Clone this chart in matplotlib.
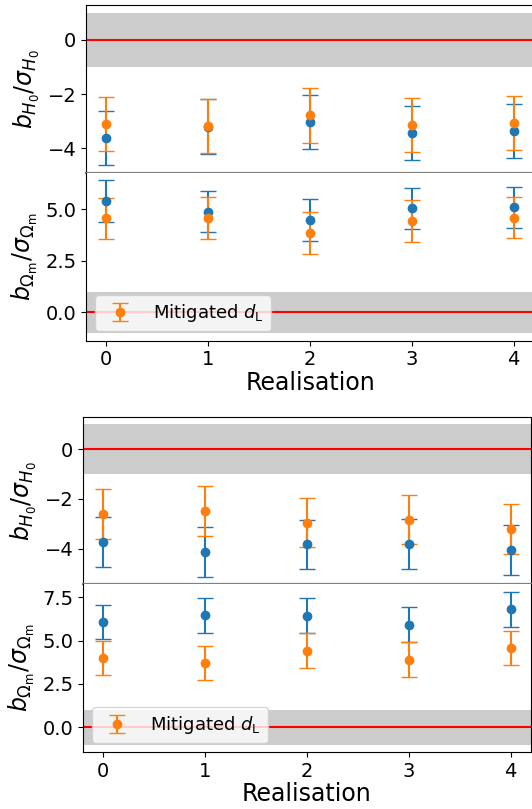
import matplotlib
matplotlib.use("Agg")
import matplotlib.pyplot as plt

# realisation index
realisation = [0, 1, 2, 3, 4]
sigma = [1.0, 1.0, 1.0, 1.0, 1.0]

# upper panel pair
h0_unmit_a = [-3.62, -3.20, -3.03, -3.43, -3.36]
h0_mit_a = [-3.10, -3.17, -2.79, -3.14, -3.08]
om_unmit_a = [5.40, 4.87, 4.47, 5.05, 5.10]
om_mit_a = [4.56, 4.57, 3.85, 4.43, 4.59]

# lower panel pair
h0_unmit_b = [-3.74, -4.13, -3.83, -3.82, -4.05]
h0_mit_b = [-2.61, -2.48, -2.95, -2.83, -3.20]
om_unmit_b = [6.08, 6.45, 6.44, 5.92, 6.80]
om_mit_b = [3.99, 3.70, 4.42, 3.89, 4.57]

W, H = 532, 809
fig = plt.figure(figsize=(W / 100, H / 100), dpi=100)


def box(left, top, bottom, right=534):
    return [left / W, 1 - bottom / H, (right - left) / W, (bottom - top) / H]


def panel(ax, unmit, mit, label_mit=None):
    ax.axhspan(-1, 1, color="grey", alpha=0.4, lw=0)
    ax.axhline(0, color="red", lw=1.5)
    ax.errorbar(realisation, unmit, yerr=sigma, fmt="o", color="C0", capsize=6)
    ax.errorbar(realisation, mit, yerr=sigma, fmt="o", color="C1", capsize=6,
                label=label_mit)
    ax.set_xlim(-0.2, 4.2)
    ax.tick_params(labelsize=14)


h0_label = r"$b_{H_0}/\sigma_{H_0}$"
om_label = r"$b_{\Omega_\mathrm{m}}/\sigma_{\Omega_\mathrm{m}}$"
mit_label = r"Mitigated $d_\mathrm{L}$"

for (top, left, h0u, h0m, omu, omm) in [
    (5, 86, h0_unmit_a, h0_mit_a, om_unmit_a, om_mit_a),
    (416.7, 83, h0_unmit_b, h0_mit_b, om_unmit_b, om_mit_b),
]:
    ax1 = fig.add_axes(box(left, top, top + 167.7, right=left + 448))
    ax2 = fig.add_axes(box(left, top + 167.7, top + 335.5, right=left + 448))

    panel(ax1, h0u, h0m)
    panel(ax2, omu, omm, mit_label)

    ax1.set_xticks(realisation)
    ax1.tick_params(labelbottom=False, bottom=False)
    ax1.spines["bottom"].set_color("grey")
    ax1.spines["bottom"].set_linewidth(1.6)
    ax2.spines["top"].set_visible(False)
    ax2.set_xticks(realisation)

    ax1.set_ylabel(h0_label, fontsize=17)
    ax2.set_ylabel(om_label, fontsize=17)
    ax2.set_xlabel("Realisation", fontsize=17, labelpad=1)
    ax2.legend(loc="lower left", fontsize=13)
    fig.align_ylabels([ax1, ax2])

fig.savefig("out.png", dpi=100)
